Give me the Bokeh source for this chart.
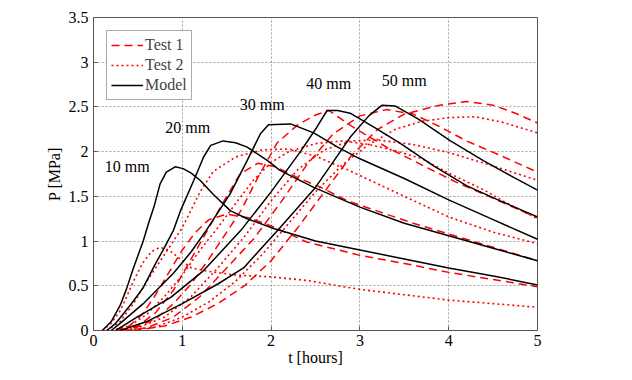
from bokeh.plotting import figure
from bokeh.models import Range1d, FixedTicker, Label, Legend, LegendItem
from bokeh.embed import file_html
from bokeh.resources import INLINE

# ---------------- data ----------------
# Model (black, solid)
t_m10 = [0.1, 0.2, 0.3, 0.37, 0.45, 0.56, 0.62, 0.68, 0.75, 0.82, 0.92, 1.01, 1.1, 1.2, 1.35, 1.54, 1.73, 2.03, 2.5, 3.0, 3.5, 4.0, 4.5, 5.0]
p_m10 = [0.0, 0.1, 0.28, 0.46, 0.7, 1.0, 1.2, 1.38, 1.64, 1.77, 1.83, 1.81, 1.76, 1.68, 1.52, 1.34, 1.25, 1.14, 1.0, 0.9, 0.8, 0.7, 0.61, 0.51]
t_m20 = [0.15, 0.25, 0.34, 0.45, 0.56, 0.7, 0.8, 0.9, 0.98, 1.13, 1.24, 1.32, 1.46, 1.6, 1.73, 1.96, 2.1, 2.48, 3.0, 3.5, 4.0, 4.5, 5.0]
p_m20 = [0.0, 0.08, 0.19, 0.33, 0.48, 0.75, 0.93, 1.12, 1.34, 1.68, 1.94, 2.07, 2.12, 2.1, 2.05, 1.9, 1.79, 1.6, 1.38, 1.2, 1.06, 0.92, 0.78]
t_m30 = [0.2, 0.3, 0.56, 0.9, 1.1, 1.27, 1.54, 1.73, 1.88, 1.97, 2.22, 2.48, 2.75, 3.0, 3.5, 4.0, 4.5, 5.0]
p_m30 = [0.0, 0.08, 0.3, 0.64, 0.88, 1.12, 1.53, 1.9, 2.2, 2.3, 2.31, 2.21, 2.05, 1.92, 1.7, 1.46, 1.24, 1.02]
t_m40 = [0.25, 0.49, 0.87, 1.24, 1.66, 2.0, 2.33, 2.5, 2.63, 2.75, 2.89, 3.2, 3.46, 3.83, 4.2, 4.58, 5.0]
p_m40 = [0.0, 0.15, 0.37, 0.67, 1.12, 1.55, 2.0, 2.25, 2.46, 2.46, 2.43, 2.25, 2.09, 1.84, 1.62, 1.45, 1.27]
t_m50 = [0.3, 0.6, 1.0, 1.4, 1.69, 2.1, 2.5, 2.89, 3.1, 3.25, 3.4, 3.65, 4.02, 4.39, 4.7, 5.0]
p_m50 = [0.0, 0.1, 0.3, 0.52, 0.7, 1.15, 1.6, 2.16, 2.4, 2.52, 2.51, 2.37, 2.12, 1.9, 1.73, 1.57]

# Test 1 (red, dashed)
t_a10 = [0.25, 0.4, 0.55, 0.7, 0.85, 1.0, 1.15, 1.3, 1.5, 1.75, 2.0, 2.4, 3.0, 3.5, 4.0, 4.5, 5.0]
p_a10 = [0.0, 0.05, 0.18, 0.4, 0.65, 0.9, 1.1, 1.24, 1.3, 1.26, 1.17, 0.99, 0.84, 0.75, 0.65, 0.57, 0.49]
t_a20 = [0.3, 0.5, 0.7, 0.9, 1.1, 1.3, 1.5, 1.65, 1.85, 2.05, 2.3, 2.56, 2.86, 3.3, 3.6, 4.0, 4.5, 5.0]
p_a20 = [0.0, 0.05, 0.2, 0.45, 0.8, 1.15, 1.5, 1.75, 1.87, 1.83, 1.71, 1.6, 1.45, 1.3, 1.2, 1.08, 0.93, 0.78]
t_a30 = [0.3, 0.5, 0.7, 0.9, 1.1, 1.3, 1.5, 1.66, 1.85, 2.07, 2.3, 2.5, 2.65, 2.93, 3.3, 3.7, 4.1, 4.5, 5.0]
p_a30 = [0.0, 0.04, 0.13, 0.3, 0.52, 0.8, 1.1, 1.34, 1.71, 2.1, 2.3, 2.41, 2.46, 2.27, 2.05, 1.85, 1.65, 1.48, 1.26]
t_a40 = [0.35, 0.6, 0.9, 1.2, 1.5, 1.8, 2.1, 2.4, 2.7, 3.0, 3.3, 3.6, 3.9, 4.2, 4.6, 5.0]
p_a40 = [0.0, 0.03, 0.15, 0.38, 0.7, 1.02, 1.42, 1.85, 2.2, 2.4, 2.47, 2.42, 2.28, 2.12, 1.95, 1.77]
t_a50 = [0.45, 0.8, 1.1, 1.4, 1.7, 2.0, 2.3, 2.6, 2.9, 3.2, 3.5, 3.9, 4.2, 4.5, 4.75, 5.0]
p_a50 = [0.0, 0.05, 0.15, 0.3, 0.5, 0.78, 1.15, 1.55, 1.95, 2.25, 2.42, 2.52, 2.56, 2.52, 2.43, 2.32]

# Test 2 (red, dotted)
t_b10 = [0.1, 0.2, 0.3, 0.37, 0.45, 0.55, 0.65, 0.75, 0.85, 1.0, 1.1, 1.3, 1.6, 2.0, 2.4, 3.0, 3.5, 4.0, 4.5, 5.0]
p_b10 = [0.0, 0.08, 0.22, 0.37, 0.55, 0.75, 0.88, 0.93, 0.9, 0.78, 0.7, 0.66, 0.62, 0.6, 0.56, 0.46, 0.4, 0.34, 0.3, 0.26]
t_b20 = [0.15, 0.3, 0.45, 0.6, 0.8, 1.0, 1.2, 1.35, 1.6, 1.9, 2.2, 2.5, 2.9, 3.5, 4.0, 4.5, 5.0]
p_b20 = [0.0, 0.1, 0.3, 0.55, 0.85, 1.15, 1.55, 1.78, 1.94, 2.02, 2.03, 1.95, 1.78, 1.5, 1.27, 1.1, 0.97]
t_b30 = [0.2, 0.4, 0.6, 0.8, 1.0, 1.2, 1.4, 1.6, 1.8, 2.0, 2.2, 2.5, 2.8, 3.1, 3.4, 3.7, 4.0, 4.4, 4.7, 5.0]
p_b30 = [0.0, 0.05, 0.18, 0.38, 0.62, 0.9, 1.15, 1.42, 1.68, 1.88, 2.0, 2.09, 2.12, 2.08, 2.01, 1.92, 1.76, 1.57, 1.4, 1.25]
t_b40 = [0.3, 0.5, 0.8, 1.1, 1.4, 1.7, 2.0, 2.3, 2.6, 2.9, 3.2, 3.6, 4.0, 4.5, 5.0]
p_b40 = [0.0, 0.03, 0.15, 0.38, 0.7, 1.05, 1.45, 1.8, 2.02, 2.12, 2.13, 2.08, 1.99, 1.84, 1.68]
t_b50 = [0.4, 0.7, 1.0, 1.3, 1.6, 1.9, 2.2, 2.5, 2.8, 3.1, 3.4, 3.7, 4.0, 4.3, 4.6, 5.0]
p_b50 = [0.0, 0.04, 0.15, 0.32, 0.55, 0.85, 1.2, 1.55, 1.85, 2.08, 2.25, 2.34, 2.38, 2.39, 2.33, 2.21]

x_ticks = [0, 1, 2, 3, 4, 5]
y_ticks = [0, 0.5, 1, 1.5, 2, 2.5, 3, 3.5]
y_tick_labels = ["0", "0.5", "1", "1.5", "2", "2.5", "3", "3.5"]

size_labels = ["10 mm", "20 mm", "30 mm", "40 mm", "50 mm"]
size_label_t = [0.38, 1.06, 1.9, 2.65, 3.5]
size_label_p = [1.83, 2.27, 2.53, 2.76, 2.8]

# ---------------- figure ----------------
FONT = "Liberation Serif"
FS = "16px"

p = figure(width=624, height=372, output_backend="svg", toolbar_location=None,
           x_range=Range1d(0, 5), y_range=Range1d(0, 3.5),
           min_border_left=93, min_border_right=87, min_border_top=17, min_border_bottom=42)
p.frame_width = 444
p.frame_height = 313
p.background_fill_color = "white"
p.border_fill_color = "white"
p.outline_line_color = "#555555"
p.outline_line_width = 1

xa = p.xaxis[0]
ya = p.yaxis[0]
for ax in (xa, ya):
    ax.axis_line_color = None
    ax.major_tick_in = 4
    ax.major_tick_out = 0
    ax.minor_tick_line_color = None
    ax.major_tick_line_color = "#555555"
    ax.major_label_text_font = FONT
    ax.major_label_text_font_size = FS
    ax.major_label_text_color = "black"
    ax.axis_label_text_font = FONT
    ax.axis_label_text_font_size = FS
    ax.axis_label_text_font_style = "normal"
    ax.axis_label_text_color = "black"

xa.ticker = FixedTicker(ticks=x_ticks)
ya.ticker = FixedTicker(ticks=y_ticks)
ya.major_label_overrides = {t: l for t, l in zip(y_ticks, y_tick_labels)}
xa.major_label_standoff = 4
ya.major_label_standoff = 5
xa.axis_label = "t [hours]"
ya.axis_label = "P [MPa]"
xa.axis_label_standoff = 0
ya.axis_label_standoff = 3

p.grid.grid_line_color = "#a0a0a0"
p.grid.grid_line_dash = "2 2"
p.grid.grid_line_width = 1

RED = "#ff0000"
tests1 = [(t_a10, p_a10), (t_a20, p_a20), (t_a30, p_a30), (t_a40, p_a40), (t_a50, p_a50)]
tests2 = [(t_b10, p_b10), (t_b20, p_b20), (t_b30, p_b30), (t_b40, p_b40), (t_b50, p_b50)]
models = [(t_m10, p_m10), (t_m20, p_m20), (t_m30, p_m30), (t_m40, p_m40), (t_m50, p_m50)]

r1 = [p.line(t, v, line_color=RED, line_width=1.5, line_dash="8 5") for t, v in tests1]
r2 = [p.line(t, v, line_color=RED, line_width=1.6, line_dash="2 3") for t, v in tests2]
r3 = [p.line(t, v, line_color="black", line_width=1.5) for t, v in models]

for txt, tx, py in zip(size_labels, size_label_t, size_label_p):
    p.add_layout(Label(x=tx, y=py, text=txt, text_align="center", text_baseline="middle",
                       text_font=FONT, text_font_size=FS, text_color="black"))

legend = Legend(items=[LegendItem(label="Test 1", renderers=[r1[0]]),
                       LegendItem(label="Test 2", renderers=[r2[0]]),
                       LegendItem(label="Model", renderers=[r3[0]])],
                location="top_left")
legend.margin = 13
legend.padding = 4
legend.spacing = 0
legend.label_height = 20
legend.glyph_height = 20
legend.glyph_width = 32
legend.label_standoff = 2
legend.label_text_font = FONT
legend.label_text_font_size = FS
legend.border_line_color = "#555555"
legend.border_line_width = 1
legend.background_fill_alpha = 1
p.add_layout(legend, "center")

open("out.html", "w").write(file_html(p, INLINE))
